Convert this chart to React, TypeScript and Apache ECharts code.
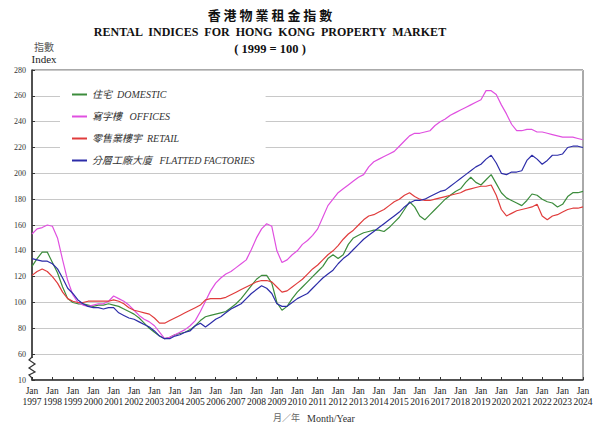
import React, { useEffect, useRef } from "react";
import * as echarts from "echarts";

// Quarterly time index (Jan 1997 … Jan 2024)
const QUARTERS: number[] = Array.from({ length: 109 }, (_, i) => 1997 + i * 0.25);
const YEAR_TICKS: number[] = Array.from({ length: 28 }, (_, i) => 1997 + i);

const DOMESTIC: number[] = [
  128, 134, 139, 139,
  131, 123, 112, 103,
  100, 99, 99, 98,
  97, 98, 98, 99,
  98, 97, 95, 93,
  91, 88, 84, 80,
  77, 74, 72, 73,
  75, 76, 77, 79,
  82, 86, 89, 90,
  91, 92, 93, 96,
  99, 103, 108, 113,
  118, 121, 121, 115,
  100, 94, 97, 103,
  108, 112, 116, 120,
  124, 128, 134, 137,
  134, 137, 145, 150,
  152, 154, 155, 156,
  156, 155, 158, 162,
  166, 172, 178, 174,
  167, 164, 168, 172,
  176, 180, 183, 186,
  188, 193, 197, 193,
  191, 195, 199, 192,
  185, 181, 179, 177,
  175, 179, 184, 183,
  180, 178, 177, 174,
  176, 182, 185, 185,
  186,
];

const OFFICES: number[] = [
  153, 157, 158, 160,
  159, 150, 133, 117,
  106, 100, 98, 97,
  98, 99, 99, 101,
  105, 103, 101, 98,
  94, 90, 87, 85,
  82, 77, 72, 73,
  75, 77, 79, 82,
  86, 93, 101, 109,
  115, 119, 122, 124,
  127, 130, 133, 141,
  150, 157, 161, 159,
  140, 131, 133, 137,
  140, 145, 148, 152,
  157, 166, 175, 180,
  185, 188, 191, 194,
  197, 199, 205, 209,
  211, 213, 215, 217,
  221, 225, 229, 231,
  231, 232, 233, 237,
  240, 242, 245, 247,
  249, 251, 253, 255,
  257, 264, 264, 261,
  253, 246, 238, 233,
  233, 234, 234, 232,
  232, 231, 230, 229,
  228, 228, 228, 227,
  226,
];

const RETAIL: number[] = [
  121, 124, 126, 124,
  120, 115, 108, 103,
  101, 100, 100, 101,
  101, 101, 101, 101,
  102, 101, 99, 96,
  94, 93, 92, 91,
  88, 84, 84, 86,
  88, 90, 92, 94,
  96, 98, 102, 103,
  103, 103, 104, 106,
  108, 110, 112, 114,
  116, 117, 117, 116,
  112, 108, 109, 112,
  115, 118, 122, 126,
  129, 133, 137, 140,
  144, 149, 153, 156,
  160, 164, 167, 168,
  170, 172, 175, 178,
  180, 183, 185, 182,
  180, 179, 179, 180,
  181, 182, 183, 184,
  185, 187, 188, 189,
  190, 190, 191, 183,
  172, 167, 169, 171,
  172, 173, 174, 176,
  167, 164, 167, 168,
  170, 172, 173, 173,
  174,
];

const FACTORIES: number[] = [
  134, 133, 132, 132,
  130, 126, 119, 111,
  107, 102, 99, 97,
  96, 96, 95, 96,
  96, 92, 90, 88,
  87, 85, 83, 81,
  78, 74, 72, 72,
  74, 75, 77, 78,
  82, 84, 81, 84,
  87, 89, 92, 95,
  97, 99, 103, 107,
  110, 113, 111, 107,
  99, 97, 97, 100,
  103, 105, 107, 111,
  115, 119, 122, 125,
  130, 134, 137, 141,
  145, 149, 152, 155,
  158, 161, 164, 167,
  170, 174, 177, 179,
  179, 180, 182, 184,
  186, 187, 190, 193,
  196, 199, 202, 205,
  207, 211, 214, 208,
  200, 199, 201, 201,
  202, 210, 214, 211,
  207, 210, 214, 214,
  215, 220, 221, 221,
  220,
];

const SERIES_NAMES: string[] = [
  "住宅  DOMESTIC",
  "寫字樓   OFFICES",
  "零售業樓宇  RETAIL",
  "分層工廠大廈   FLATTED FACTORIES",
];
const SERIES_VALUES: number[][] = [DOMESTIC, OFFICES, RETAIL, FACTORIES];
const SERIES_COLORS: string[] = ["#3c8c3c", "#e050e0", "#e03c3c", "#2c2ca8"];

const Y_MIN = 40;
const Y_MAX = 280;
const Y_STEP = 20;
const Y_BOTTOM_LABEL = "10";

const FONT = "'Liberation Serif', 'Times New Roman', 'Noto Sans CJK TC', serif";

export default function App() {
  const ref = useRef<HTMLDivElement>(null);

  useEffect(() => {
    if (!ref.current) return;
    const chart = echarts.init(ref.current, undefined, { renderer: "svg" });

    const series = SERIES_NAMES.map((name, k) => ({
      name,
      type: "line",
      data: QUARTERS.map((t, i) => [t, SERIES_VALUES[k][i]]),
      showSymbol: false,
      symbol: "none",
      smooth: false,
      lineStyle: { color: SERIES_COLORS[k], width: 1.2 },
      itemStyle: { color: SERIES_COLORS[k] },
      z: 3,
    }));

    chart.setOption({
      animation: false,
      backgroundColor: "#ffffff",
      grid: {
        left: 32,
        top: 70,
        right: 24,
        bottom: 49,
        show: true,
        borderColor: "#555555",
        borderWidth: 1,
        containLabel: false,
      },
      legend: {
        orient: "vertical",
        left: 60,
        top: 82,
        padding: [6, 11, 3, 12],
        itemGap: 9,
        itemWidth: 15,
        itemHeight: 2,
        icon: "rect",
        backgroundColor: "#ffffff",
        data: SERIES_NAMES,
        textStyle: {
          fontFamily: FONT,
          fontStyle: "italic",
          fontSize: 10,
          color: "#333333",
          lineHeight: 13,
        },
        selectedMode: false,
      },
      xAxis: {
        type: "value",
        min: YEAR_TICKS[0],
        max: YEAR_TICKS[YEAR_TICKS.length - 1],
        interval: 1,
        axisLine: { show: true, lineStyle: { color: "#333333", width: 1.5 } },
        axisTick: { show: true, inside: true, length: 3, lineStyle: { color: "#333333" } },
        splitLine: { show: false },
        axisLabel: {
          fontFamily: FONT,
          fontSize: 9.5,
          color: "#222222",
          lineHeight: 11,
          margin: 5,
          formatter: (v: number) => `Jan\n${v}`,
        },
      },
      yAxis: {
        type: "value",
        min: Y_MIN,
        max: Y_MAX,
        interval: Y_STEP,
        axisLine: { show: true, lineStyle: { color: "#333333", width: 1.5 } },
        axisTick: { show: true, inside: true, length: 3, lineStyle: { color: "#333333" } },
        splitLine: { show: true, lineStyle: { color: "#c8c8c8", width: 1 } },
        axisLabel: {
          fontFamily: FONT,
          fontSize: 8,
          color: "#333333",
          margin: 6,
          formatter: (v: number) => (v === Y_MIN ? Y_BOTTOM_LABEL : String(v)),
        },
      },
      graphic: [
        {
          type: "text",
          style: {
            text: "香 港 物 業 租 金 指 數",
            x: 270,
            y: 8,
            textAlign: "center",
            font: `bold 13px 'Noto Sans CJK TC', sans-serif`,
            fill: "#111111",
          },
        },
        {
          type: "text",
          style: {
            text: "RENTAL  INDICES  FOR  HONG  KONG  PROPERTY  MARKET",
            x: 270,
            y: 26,
            textAlign: "center",
            font: `bold 12px ${FONT}`,
            fill: "#111111",
          },
        },
        {
          type: "text",
          style: {
            text: "( 1999 = 100 )",
            x: 270,
            y: 43,
            textAlign: "center",
            font: `bold 12.5px ${FONT}`,
            fill: "#111111",
          },
        },
        {
          type: "text",
          style: {
            text: "指數",
            x: 44,
            y: 42,
            textAlign: "center",
            font: `10px 'Noto Sans CJK TC', sans-serif`,
            fill: "#555555",
          },
        },
        {
          type: "text",
          style: {
            text: "Index",
            x: 44,
            y: 54,
            textAlign: "center",
            font: `11px ${FONT}`,
            fill: "#222222",
          },
        },
        {
          type: "text",
          style: {
            text: "月／年",
            x: 273,
            y: 413,
            font: `9px 'Noto Sans CJK TC', sans-serif`,
            fill: "#666666",
          },
        },
        {
          type: "text",
          style: {
            text: "Month/Year",
            x: 307,
            y: 413,
            font: `10px ${FONT}`,
            fill: "#333333",
          },
        },
        {
          type: "rect",
          shape: { x: 29, y: 358, width: 7, height: 19 },
          style: { fill: "#ffffff" },
          z: 100,
        },
        {
          type: "polyline",
          shape: {
            points: [
              [32, 357],
              [29, 360],
              [35, 364],
              [29, 368],
              [35, 372],
              [29, 375],
              [32, 378],
            ],
          },
          style: { stroke: "#333333", lineWidth: 1.2, fill: "none" },
          z: 101,
        },
      ],
      series,
    });

    return () => chart.dispose();
  }, []);

  return (
    <div
      ref={ref}
      style={{ position: "absolute", left: 0, top: 0, width: 607, height: 429 }}
    />
  );
}
